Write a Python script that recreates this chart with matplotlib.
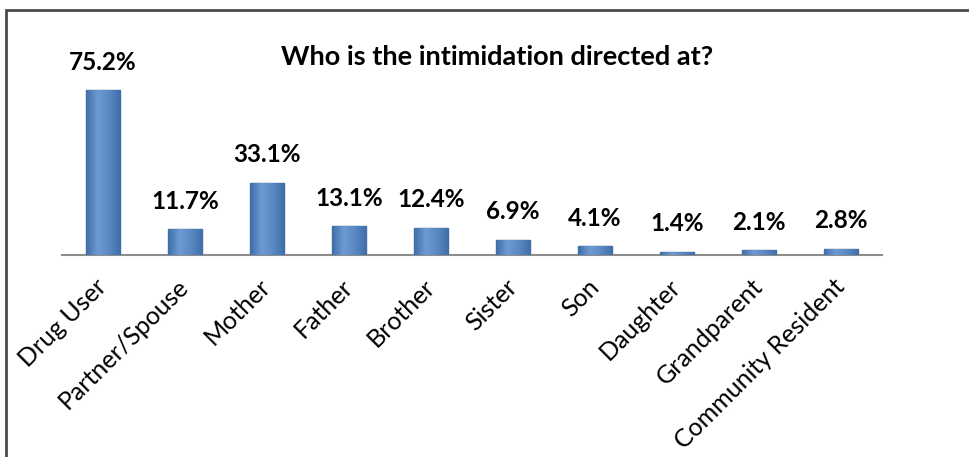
import numpy as np
import matplotlib
matplotlib.use("Agg")
import matplotlib.pyplot as plt
from matplotlib.patches import Rectangle

# data
categories = ['Drug User', 'Partner/Spouse', 'Mother', 'Father', 'Brother',
              'Sister', 'Son', 'Daughter', 'Grandparent', 'Community Resident']
percent = [75.2, 11.7, 33.1, 13.1, 12.4, 6.9, 4.1, 1.4, 2.1, 2.8]
title = 'Who is the intimidation directed at?'

plt.rcParams['font.family'] = ['Lato', 'DejaVu Sans']

fig = plt.figure(figsize=(9.7, 4.57), dpi=100)
ax = fig.add_axes([62 / 970, 202 / 457, 820 / 970, 219 / 457])

x = np.arange(len(categories))
bars = ax.bar(x, percent, width=0.42, color='#4F81BD', edgecolor='#3B6494',
              linewidth=1.0, zorder=2)

# light vertical gradient highlight on each bar
grad = np.linspace(0, 1, 64).reshape(1, -1)
cmap = matplotlib.colors.LinearSegmentedColormap.from_list(
    'bar', ['#3F6EA8', '#6E9AD0', '#5A88C4', '#3F6EA8'])
for b in bars:
    x0, y0 = b.get_x(), b.get_y()
    w, h = b.get_width(), b.get_height()
    im = ax.imshow(grad, cmap=cmap, aspect='auto', zorder=3,
                   extent=(x0, x0 + w, y0, y0 + h))
    im.set_clip_path(b)

for xi, v in zip(x, percent):
    ax.annotate(f'{v}%', (xi, v), xytext=(0, 28), textcoords='offset pixels',
                ha='center', va='center', fontsize=17.5, fontweight='bold',
                color='black')

ax.set_xlim(-0.5, len(categories) - 0.5)
ax.set_ylim(0, 100)
ax.set_xticks(x)
ax.set_xticklabels(categories, rotation=45, ha='right', va='center',
                   rotation_mode='anchor', fontsize=18)
ax.tick_params(axis='x', length=0, pad=20)
ax.set_yticks([])
for s in ['top', 'right', 'left']:
    ax.spines[s].set_visible(False)
ax.spines['bottom'].set_color('#8C8C8C')
ax.spines['bottom'].set_linewidth(1.5)

fig.text(497 / 970, 1 - 57 / 457, title, ha='center', va='center',
         fontsize=19.5, fontweight='bold')

# outer frame (cut off at right and bottom like the screenshot)
fig.add_artist(Rectangle((6 / 970, -0.05), 1.0, 1 - 10 / 457 + 0.05,
                         transform=fig.transFigure, fill=False,
                         edgecolor='#4A4A4A', linewidth=2))

fig.savefig('out.png', dpi=100)
